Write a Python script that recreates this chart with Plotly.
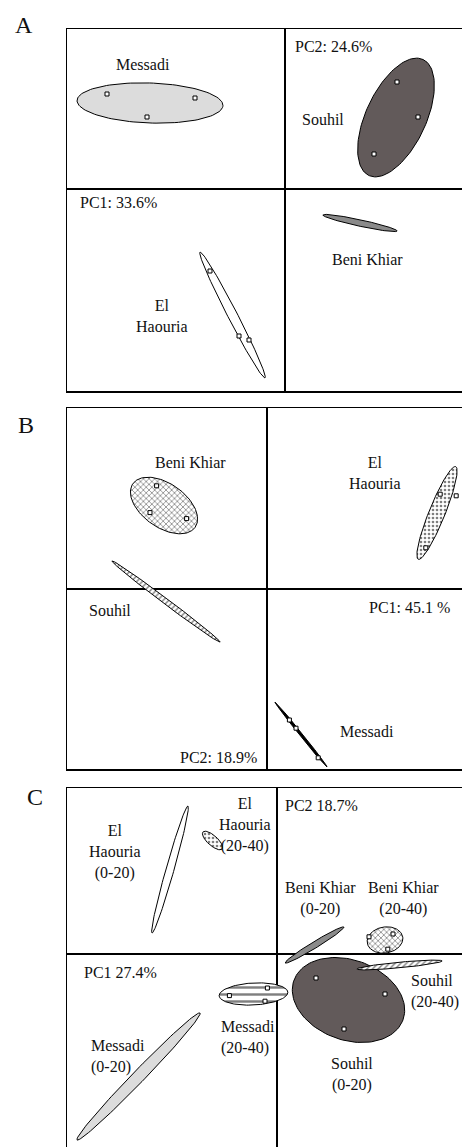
import numpy as np
import plotly.graph_objects as go

# ---------------- DATA (PC score space, axes cross at 0,0) ----------------
# Panel A
A_groups   = ["Messadi", "Souhil", "El Haouria", "Beni Khiar"]
A_cx       = [-3.375, 2.775, -1.3125, 1.875]
A_cy       = [2.15, 1.7875, -3.15, -0.85]
A_a        = [1.825, 1.6, 1.77, 0.95]
A_b        = [0.5, 0.75, 0.12, 0.08]
A_ang      = [-2, 65, -62.7, -12.2]
A_pts_x    = [-4.45, -2.25, -3.45, 2.8, 3.325, 2.225, -1.875, -1.15, -0.9]
A_pts_y    = [2.375, 2.275, 1.8, 2.675, 1.8, 0.875, -2.05, -3.675, -3.775]
A_pc1, A_pc2 = "PC1: 33.6%", "PC2: 24.6%"

# Panel B
B_groups   = ["Beni Khiar", "El Haouria", "Souhil", "Messadi"]
B_cx       = [-2.575, 4.25, -2.525, 0.85]
B_cy       = [2.0875, 1.9, -0.3125, -3.6375]
B_a        = [0.95, 1.25, 1.69, 1.04]
B_b        = [0.55, 0.2, 0.07, 0.035]
B_ang      = [-35, 68, -36.9, -51.3]
B_pts_x    = [-2.76, -2.925, -2.01, 4.33, 4.73, 3.97, 0.56, 0.725, 1.28]
B_pts_y    = [2.58, 1.91, 1.76, 2.37, 2.33, 1.03, -3.275, -3.48, -4.22]
B_pc1, B_pc2 = "PC1: 45.1 %", "PC2: 18.9%"

# Panel C
C_groups   = ["El Haouria (0-20)", "El Haouria (20-40)", "Beni Khiar (0-20)",
              "Beni Khiar (20-40)", "Souhil (0-20)", "Souhil (20-40)",
              "Messadi (20-40)", "Messadi (0-20)"]
C_cx       = [-2.675, -1.6125, 0.9375, 2.7, 1.7875, 3.0625, -0.5875, -3.4625]
C_cy       = [2.1125, 2.8375, 0.225, 0.35, -1.15, -0.275, -1.0, -3.0625]
C_a        = [1.65, 0.32, 0.86, 0.45, 1.45, 1.07, 0.86, 2.21]
C_b        = [0.1, 0.125, 0.08, 0.325, 1.0, 0.07, 0.275, 0.15]
C_ang      = [74.2, -41.8, 31.4, 10, -20, 5.4, 3, 45.9]
C_pts_x    = [0.975, 2.7, 1.675, -1.19, -0.24, -0.3, 2.9, 2.3, 2.77]
C_pts_y    = [-0.6, -1.0, -1.875, -1.04, -0.85, -1.18, 0.5, 0.43, 0.12]
C_pc1, C_pc2 = "PC1 27.4%", "PC2 18.7%"

# ---------------- STYLE ----------------
LIGHT, DARK, MID, WHITE = "#dcdcdc", "#625a5a", "#8a8a8a", "#ffffff"
A_style = [("fill", LIGHT), ("fill", DARK), ("fill", WHITE), ("fill", MID)]
B_style = [("pat", "x"), ("pat", "."), ("pat", "/"), ("fill", "#000000")]
C_style = [("fill", WHITE), ("pat", "."), ("fill", MID), ("pat", "x"),
           ("fill", DARK), ("pat", "/"), ("pat", "-"), ("fill", LIGHT)]

FONT = "Liberation Serif, Times New Roman, serif"
W, H = 462, 1147
S = 40.0  # px per unit

panels = [
    # (suffix, left px, top px, bottom px, origin x px, origin y px)
    ("", 67, 29, 391, 285, 189),
    ("2", 67, 408, 769, 267, 589),
    ("3", 67, 788, 1147, 277, 954),
]

fig = go.Figure()


def ellipse(cx, cy, a, b, ang):
    t = np.linspace(0, 2 * np.pi, 120)
    th = np.deg2rad(ang)
    x = cx + a * np.cos(t) * np.cos(th) - b * np.sin(t) * np.sin(th)
    y = cy + a * np.cos(t) * np.sin(th) + b * np.sin(t) * np.cos(th)
    return x, y


def add_panel(suffix, cx, cy, aa, bb, ang, styles, px, py):
    xa, ya = "x" + suffix, "y" + suffix
    for i in range(len(cx)):
        ex, ey = ellipse(cx[i], cy[i], aa[i], bb[i], ang[i])
        kind, val = styles[i]
        kw = dict(x=ex, y=ey, mode="lines", fill="toself",
                  line=dict(color="black", width=1), xaxis=xa, yaxis=ya,
                  hoverinfo="skip", showlegend=False)
        if kind == "fill":
            kw["fillcolor"] = val
        else:
            kw["fillcolor"] = "white"
            kw["fillpattern"] = dict(shape=val, fgcolor="black", bgcolor="white",
                                     size=4 if val != "-" else 7, solidity=0.35)
        fig.add_trace(go.Scatter(**kw))
    fig.add_trace(go.Scatter(x=px, y=py, mode="markers", xaxis=xa, yaxis=ya,
                             marker=dict(symbol="square", size=4, color="white",
                                         line=dict(color="black", width=1)),
                             hoverinfo="skip", showlegend=False))


add_panel("", A_cx, A_cy, A_a, A_b, A_ang, A_style, A_pts_x, A_pts_y)
add_panel("2", B_cx, B_cy, B_a, B_b, B_ang, B_style, B_pts_x, B_pts_y)
add_panel("3", C_cx, C_cy, C_a, C_b, C_ang, C_style, C_pts_x, C_pts_y)

layout = dict(width=W, height=H, margin=dict(l=0, r=0, t=0, b=0),
              paper_bgcolor="white", plot_bgcolor="white", showlegend=False)
for k, (suf, left, top, bot, ox, oy) in enumerate(panels):
    xr = [(left - ox) / S, (W - ox) / S]
    yr = [(oy - bot) / S, (oy - top) / S]
    common = dict(showgrid=False, showticklabels=False, ticks="",
                  zeroline=True, zerolinecolor="black", zerolinewidth=1.5,
                  showline=True, linecolor="black", linewidth=1.5, fixedrange=True)
    xax = dict(common, domain=[left / W, 1.0], range=xr, anchor="y" + suf)
    if suf == "3":
        xax.update(side="top", mirror=False)
    else:
        xax.update(mirror=True)
    yax = dict(common, domain=[1 - bot / H, 1 - top / H], range=yr,
               anchor="x" + suf, mirror=False)
    layout["xaxis" + suf] = xax
    layout["yaxis" + suf] = yax
fig.update_layout(**layout)


def note(suf, x, y, text, anchor="center"):
    fig.add_annotation(x=x, y=y, xref="x" + suf, yref="y" + suf, text=text,
                       showarrow=False, xanchor=anchor, yanchor="middle",
                       align=anchor if anchor != "center" else "center",
                       font=dict(family=FONT, size=16, color="#111"))


# Panel A labels
note("", -3.55, 3.1, A_groups[0])
note("", 0.95, 1.725, A_groups[1])
note("", -3.075, -3.175, "El<br>Haouria")
note("", 2.05, -1.75, A_groups[3])
note("", 0.2, 3.55, A_pc2, "left")
note("", -5.175, -0.35, A_pc1, "left")

# Panel B labels
note("2", -1.925, 3.15, B_groups[0])
note("2", 2.7, 2.9, "El<br>Haouria")
note("2", -3.925, -0.525, B_groups[2])
note("2", 2.5, -3.55, B_groups[3])
note("2", 4.625, -0.45, B_pc1, "right")
note("2", -0.2, -4.2, B_pc2, "right")

# Panel C labels
note("3", -4.05, 2.55, "El<br>Haouria<br>(0-20)")
note("3", -0.8, 3.225, "El<br>Haouria<br>(20-40)")
note("3", 0.15, 3.725, C_pc2, "left")
note("3", 1.075, 1.4, "Beni Khiar<br>(0-20)")
note("3", 3.15, 1.4, "Beni Khiar<br>(20-40)")
note("3", -4.875, -0.45, C_pc1, "left")
note("3", -1.45, -2.075, "Messadi<br>(20-40)", "left")
note("3", -4.7, -2.55, "Messadi<br>(0-20)", "left")
note("3", 1.875, -3.0, "Souhil<br>(0-20)")
note("3", 3.3, -0.925, "Souhil<br>(20-40)", "left")

# Panel letters
for letter, px, py in [("A", 24, 25), ("B", 26, 425), ("C", 35, 797)]:
    fig.add_annotation(x=px / W, y=1 - py / H, xref="paper", yref="paper",
                       text=letter, showarrow=False, xanchor="center",
                       yanchor="middle",
                       font=dict(family=FONT, size=24, color="#111"))

fig.write_html(
    "out.html",
    config={"displayModeBar": False, "staticPlot": True},
    post_script="document.body.style.margin='0';document.body.style.overflow='hidden';",
)
